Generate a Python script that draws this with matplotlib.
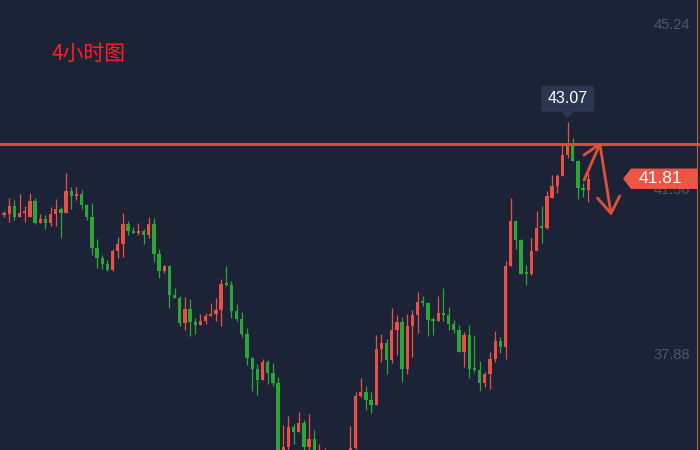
import matplotlib
matplotlib.use("Agg")
import matplotlib.pyplot as plt
import matplotlib.transforms as mtrans
from matplotlib.patches import Polygon, FancyBboxPatch
import numpy as np

# ---------------- data (4-hour candles, price) ----------------
opens = [41.14, 41.00, 41.03, 41.20, 40.96, 41.05, 40.96, 41.32, 40.83, 40.92,
         40.83, 41.03, 41.14, 41.05, 41.54, 41.43, 41.47, 41.23, 40.96, 40.27,
         40.05, 39.91, 39.78, 40.20, 40.36, 40.80, 40.65, 40.60, 40.65, 40.56,
         40.80, 40.14, 39.76, 39.87, 39.23, 39.16, 38.60, 38.91, 38.63, 38.56,
         38.65, 38.76, 38.80, 38.89, 39.47, 39.45, 38.87, 38.69, 38.36, 37.82,
         37.58, 37.34, 37.74, 37.49, 37.27, 35.51, 35.85, 36.29, 36.18, 36.38,
         35.85, 36.02, 35.60, 35.55, 35.72, 35.38, 35.20, 35.42, 35.67, 35.82,
         36.98, 37.07, 36.89, 36.78, 38.02, 38.16, 37.78, 38.45, 38.63, 37.58,
         38.54, 38.78, 39.07, 39.05, 38.67, 38.65, 38.83, 38.78, 38.58, 38.45,
         37.96, 38.34, 37.58, 37.56, 37.27, 37.47, 37.80, 38.20, 38.07, 39.87,
         40.87, 40.45, 39.71, 39.69, 40.20, 40.74, 40.72, 41.38, 41.65, 41.87,
         42.34, 42.56, 42.20, 41.60, 41.56]
highs = [41.18, 41.09, 41.38, 41.34, 41.47, 41.20, 41.49, 41.38, 41.03, 41.00,
         41.18, 41.36, 41.18, 41.94, 41.63, 41.63, 41.56, 41.25, 41.27, 40.47,
         40.12, 40.00, 40.25, 40.52, 41.05, 40.87, 40.74, 40.83, 40.69, 40.96,
         40.94, 40.25, 39.89, 39.89, 39.38, 39.20, 39.18, 39.14, 38.71, 38.80,
         38.83, 39.05, 39.16, 39.58, 39.87, 39.54, 39.03, 38.85, 38.49, 37.85,
         37.69, 37.80, 37.78, 37.71, 37.40, 36.33, 36.53, 36.36, 36.62, 36.45,
         36.58, 36.22, 35.91, 35.82, 35.74, 35.45, 35.50, 35.70, 36.31, 37.07,
         37.38, 37.20, 37.07, 38.34, 38.36, 38.25, 38.94, 38.78, 38.74, 38.80,
         38.89, 39.29, 39.20, 39.07, 38.74, 39.20, 39.38, 38.96, 38.67, 38.56,
         38.40, 38.56, 38.34, 37.76, 37.51, 37.96, 38.43, 38.29, 39.98, 41.38,
         40.89, 40.47, 39.89, 40.49, 41.09, 41.20, 41.54, 41.89, 41.92, 42.56,
         43.07, 42.72, 42.23, 41.72, 41.94]
lows = [40.94, 40.96, 40.85, 40.89, 40.96, 40.85, 40.96, 40.80, 40.83, 40.69,
        40.76, 40.76, 40.49, 41.05, 41.14, 41.34, 41.14, 40.89, 40.12, 39.83,
        39.80, 39.76, 39.76, 40.05, 40.07, 40.56, 40.60, 40.56, 40.36, 40.49,
        39.96, 39.60, 39.71, 38.94, 39.16, 38.54, 38.45, 38.31, 38.36, 38.56,
        38.58, 38.76, 38.65, 38.54, 39.43, 38.71, 38.65, 38.29, 37.67, 37.09,
        37.00, 37.34, 37.25, 37.20, 35.42, 35.42, 35.73, 35.91, 36.18, 35.73,
        35.76, 35.56, 35.51, 35.45, 35.30, 35.10, 35.15, 35.35, 35.60, 35.80,
        36.96, 36.67, 36.60, 36.78, 37.74, 37.47, 37.71, 37.89, 37.29, 37.47,
        37.85, 38.38, 38.98, 38.31, 38.34, 38.65, 38.65, 38.45, 38.38, 37.96,
        37.62, 37.38, 37.51, 37.09, 37.18, 37.14, 37.74, 37.94, 37.80, 39.87,
        40.25, 39.69, 39.45, 39.67, 40.20, 40.38, 40.69, 41.38, 41.49, 41.87,
        42.27, 42.20, 41.36, 41.40, 41.29]
closes = [40.98, 41.05, 41.20, 40.96, 41.05, 41.07, 41.32, 40.83, 40.92, 40.83,
          41.03, 41.14, 41.05, 41.54, 41.43, 41.47, 41.23, 40.96, 40.27, 40.05,
          39.91, 39.78, 40.20, 40.36, 40.80, 40.65, 40.60, 40.65, 40.56, 40.80,
          40.14, 39.76, 39.87, 39.23, 39.16, 38.60, 38.91, 38.63, 38.56, 38.65,
          38.76, 38.80, 38.89, 39.47, 39.45, 38.87, 38.69, 38.36, 37.82, 37.58,
          37.34, 37.74, 37.49, 37.27, 35.51, 35.85, 36.29, 36.18, 36.38, 35.85,
          36.02, 35.67, 35.73, 35.72, 35.38, 35.20, 35.42, 35.62, 35.82, 36.98,
          37.07, 36.89, 36.78, 38.02, 38.16, 37.78, 38.45, 38.63, 37.58, 38.54,
          38.78, 39.07, 39.05, 38.67, 38.65, 38.83, 38.78, 38.58, 38.45, 37.96,
          38.34, 37.58, 37.56, 37.27, 37.47, 37.80, 38.20, 38.07, 39.87, 40.87,
          40.45, 39.69, 39.69, 40.20, 40.72, 40.72, 41.43, 41.65, 41.87, 42.34,
          42.58, 42.20, 41.60, 41.56, 41.81]

axis_labels = [45.24, 41.56, 37.88]
resistance = 42.59
title = "4小时图"
# hand-drawn arrow strokes (candle index, price)
arrow_strokes = [
    [(113.2, 41.78), (116.25, 42.58)],
    [(113.2, 42.34), (116.25, 42.58), (118.4, 41.04)],
    [(115.8, 41.38), (118.4, 41.04), (120.1, 41.43)],
]

# ---------------- style ----------------
BG = "#1c2336"
UP = "#ec4f45"     # red = rise
DOWN = "#2ba639"   # green = fall
LABEL = "#4c566e"

plt.rcParams["font.family"] = ["Liberation Sans", "DejaVu Sans"]

fig = plt.figure(figsize=(7, 4.5), dpi=100, facecolor=BG)
ax = fig.add_axes([0, 0, 1, 1], facecolor=BG)
ax.set_xlim(0.226, 135.62)
ax.set_ylim(35.778, 45.785)
ax.set_axis_off()

o = np.array(opens); h = np.array(highs); l = np.array(lows); c = np.array(closes)
idx = np.arange(len(o))
colors = np.where(c >= o, UP, DOWN)

ax.vlines(idx, l, h, colors=colors, linewidth=0.9, zorder=2)
body_low = np.minimum(o, c)
body_h = np.maximum(np.abs(c - o), 0.045)
ax.bar(idx, body_h, bottom=body_low, width=0.64, color=colors,
       edgecolor="none", linewidth=0, zorder=3)

# resistance line
ax.axhline(resistance, color="#e8472f", linewidth=2.2, zorder=4)

# right-edge thin line
ax.axvline(135.62 - 2.5 / 5.17, color="#b8653a", linewidth=0.8, zorder=1)

# axis labels
trans = mtrans.blended_transform_factory(ax.transAxes, ax.transData)
for v in axis_labels:
    ax.text(690 / 700, v, f"{v:.2f}", transform=trans, ha="right", va="center",
            fontsize=10.5, color=LABEL, zorder=5)

# last price tag
last = closes[-1]
hh = 0.227
tag = Polygon([(0.9014, last + hh), (0.9957, last + hh), (0.9957, last - hh),
               (0.9014, last - hh), (0.89, last)], closed=True,
              transform=trans, facecolor="#ef5545", edgecolor="none", zorder=6)
ax.add_patch(tag)
ax.text(0.943, last, f"{last:.2f}", transform=trans, ha="center", va="center",
        fontsize=12.5, color="white", zorder=7)

# max high label box
imax = int(np.argmax(h))
hmax = h[imax]
box = FancyBboxPatch((imax - 5.1, hmax + 0.23), 10.25, 0.58,
                     boxstyle="round,pad=0,rounding_size=0.5",
                     mutation_aspect=0.115,
                     facecolor="#2b3652", edgecolor="none", zorder=6)
ax.add_patch(box)
ax.add_patch(Polygon([(imax - 1.2, hmax + 0.235), (imax + 1.2, hmax + 0.235),
                      (imax, hmax + 0.09)], closed=True,
                     facecolor="#2b3652", edgecolor="none", zorder=6))
ax.text(imax, hmax + 0.53, f"{hmax:.2f}", ha="center", va="center",
        fontsize=11.5, color="white", zorder=7)

# arrows
for s in arrow_strokes:
    xs, ys = zip(*s)
    ax.plot(xs, ys, color="#e0503a", linewidth=2.0, solid_capstyle="round",
            solid_joinstyle="round", zorder=8)

# title
ax.text(52 / 700, 1 - 54 / 450, title, transform=ax.transAxes, ha="left",
        va="center", fontsize=15, color="#ff1f1f",
        family=["Noto Sans CJK SC", "DejaVu Sans"], zorder=9)

fig.savefig("out.png", dpi=100, facecolor=BG)
